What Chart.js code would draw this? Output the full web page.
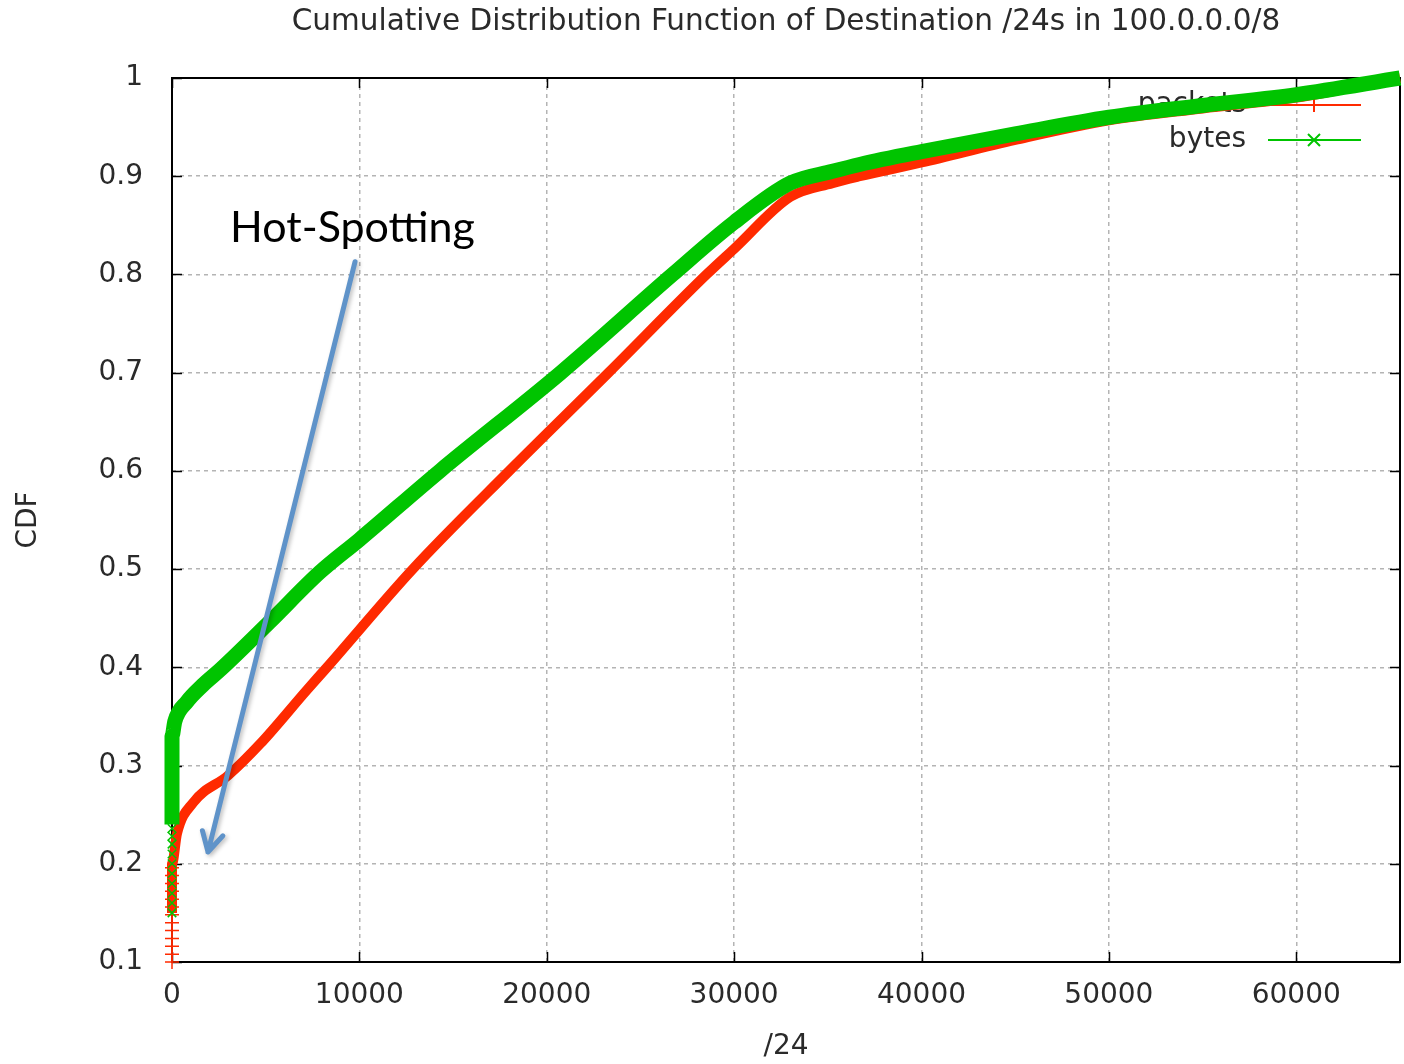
<!DOCTYPE html>
<html lang="en">
<head>
<meta charset="UTF-8">
<title>CDF of Destination /24s</title>
<script src="https://cdn.jsdelivr.net/npm/chart.js"></script>
<style>
  html, body { margin: 0; background: #fff; overflow: hidden; }
  #wrap { width: 1404px; height: 1064px; }
  canvas { display: block; }
</style>
</head>
<body>
<div id="wrap"><canvas id="cdfChart"></canvas></div>
<script>
// x = /24 index inside 100.0.0.0/8, y = cumulative fraction
const packetsX = [0, 0, 270, 1120, 3000, 4700, 7200, 8270, 12850, 18000, 23300, 28530, 30000, 33000, 35250, 36700, 40000, 45000, 50000, 55000, 60000, 65536];
const packetsY = [0.15, 0.20, 0.231, 0.262, 0.290, 0.322, 0.377, 0.40, 0.50, 0.60, 0.70, 0.80, 0.826, 0.879, 0.893, 0.900, 0.914, 0.937, 0.957, 0.969, 0.980, 1.0];

const bytesX = [0, 0, 150, 800, 1650, 2600, 5200, 7900, 10000, 14300, 20750, 26720, 30000, 33000, 35250, 36700, 40000, 45000, 50000, 55000, 60000, 65536];
const bytesY = [0.24, 0.33, 0.345, 0.365, 0.382, 0.398, 0.446, 0.497, 0.530, 0.60, 0.70, 0.80, 0.853, 0.893, 0.905, 0.912, 0.925, 0.943, 0.960, 0.972, 0.983, 1.0];

// marker clusters stacked at x = 0
const packetsMarksY = [0.100, 0.108, 0.116, 0.124, 0.132, 0.140, 0.148, 0.156, 0.164, 0.172, 0.180, 0.188, 0.196];
const bytesMarksY = [0.150, 0.160, 0.170, 0.180, 0.190, 0.200, 0.210, 0.220, 0.228, 0.236];

const xTicks = [0, 10000, 20000, 30000, 40000, 50000, 60000];
const yTicks = [0.1, 0.2, 0.3, 0.4, 0.5, 0.6, 0.7, 0.8, 0.9, 1];

const chartTitle = 'Cumulative Distribution Function of Destination /24s in 100.0.0.0/8';
const seriesNames = ['packets', 'bytes'];
const RED = '#ff2a00';
const GREEN = '#00c400';
const TEXT = '#2a2a2a';
const FONT = "'DejaVu Sans', sans-serif";

// callout: label position, arrow start and arrow tip in data units
const note = { text: 'Hot-Spotting', x: 3100, y: 0.847 };
const arrowFrom = { x: 9770, y: 0.813 };
const arrowTo = { x: 1920, y: 0.212 };

const toPoints = (xs, ys) => xs.map((x, i) => ({ x: x, y: ys[i] }));

// title, frame, inward tick marks and the key (drawn under the curves)
const framePlugin = {
  id: 'frame',
  beforeDatasetsDraw(chart) {
    const { ctx, chartArea: a, scales } = chart;
    ctx.save();
    ctx.fillStyle = TEXT;
    ctx.font = '29.5px ' + FONT;
    ctx.textAlign = 'center';
    ctx.textBaseline = 'middle';
    ctx.fillText(chartTitle, (a.left + a.right) / 2, 22);

    ctx.strokeStyle = '#000';
    ctx.lineWidth = 2;
    ctx.strokeRect(a.left, a.top, a.right - a.left, a.bottom - a.top);
    ctx.lineWidth = 1.5;
    ctx.beginPath();
    xTicks.forEach(v => {
      const px = Math.round(scales.x.getPixelForValue(v)) + 0.5;
      ctx.moveTo(px, a.bottom); ctx.lineTo(px, a.bottom - 10);
      ctx.moveTo(px, a.top); ctx.lineTo(px, a.top + 10);
    });
    yTicks.forEach(v => {
      const py = Math.round(scales.y.getPixelForValue(v)) + 0.5;
      ctx.moveTo(a.left, py); ctx.lineTo(a.left + 10, py);
      ctx.moveTo(a.right, py); ctx.lineTo(a.right - 10, py);
    });
    ctx.stroke();

    // key
    const colors = [RED, GREEN];
    ctx.font = '28px ' + FONT;
    ctx.textAlign = 'right';
    seriesNames.forEach((name, i) => {
      const y = 105 + i * 35;
      ctx.fillStyle = TEXT;
      ctx.fillText(name, 1246, y);
      ctx.strokeStyle = colors[i];
      ctx.lineWidth = 2;
      ctx.beginPath();
      ctx.moveTo(1268, y); ctx.lineTo(1361, y);
      if (i === 0) {
        ctx.moveTo(1314, y - 7); ctx.lineTo(1314, y + 7);
      } else {
        ctx.moveTo(1308, y - 6); ctx.lineTo(1320, y + 6);
        ctx.moveTo(1308, y + 6); ctx.lineTo(1320, y - 6);
      }
      ctx.stroke();
    });
    ctx.restore();
  },
  afterDatasetsDraw(chart) {
    const { ctx, scales } = chart;
    const sx = v => scales.x.getPixelForValue(v);
    const sy = v => scales.y.getPixelForValue(v);
    ctx.save();
    ctx.fillStyle = '#000';
    ctx.font = '43px Lato, sans-serif';
    ctx.textAlign = 'left';
    ctx.textBaseline = 'middle';
    ctx.fillText(note.text, sx(note.x), sy(note.y));

    const x0 = sx(arrowFrom.x), y0 = sy(arrowFrom.y);
    const x1 = sx(arrowTo.x), y1 = sy(arrowTo.y);
    const ang = Math.atan2(y1 - y0, x1 - x0);
    ctx.strokeStyle = '#5f93c9';
    ctx.lineWidth = 5;
    ctx.lineCap = 'round';
    ctx.lineJoin = 'round';
    ctx.shadowColor = 'rgba(0,0,0,0.25)';
    ctx.shadowBlur = 4;
    ctx.shadowOffsetX = 2;
    ctx.shadowOffsetY = 2;
    ctx.beginPath();
    ctx.moveTo(x0, y0);
    ctx.lineTo(x1, y1);
    ctx.moveTo(x1 - 22 * Math.cos(ang - 0.5), y1 - 22 * Math.sin(ang - 0.5));
    ctx.lineTo(x1, y1);
    ctx.lineTo(x1 - 22 * Math.cos(ang + 0.5), y1 - 22 * Math.sin(ang + 0.5));
    ctx.stroke();
    ctx.restore();
  }
};

new Chart(document.getElementById('cdfChart'), {
  type: 'line',
  data: {
    datasets: [
      {
        label: seriesNames[0],
        data: toPoints(packetsX, packetsY),
        borderColor: RED,
        borderWidth: 10,
        borderJoinStyle: 'round',
        pointRadius: 0,
        cubicInterpolationMode: 'monotone',
        clip: false,
        order: 4
      },
      {
        label: seriesNames[0] + ' marks',
        data: packetsMarksY.map(y => ({ x: 0, y: y })),
        showLine: false,
        pointStyle: 'cross',
        pointRadius: 7,
        borderColor: RED,
        borderWidth: 1.5,
        clip: false,
        order: 3
      },
      {
        label: seriesNames[1],
        data: toPoints(bytesX, bytesY),
        borderColor: GREEN,
        borderWidth: 15,
        borderJoinStyle: 'round',
        pointRadius: 0,
        cubicInterpolationMode: 'monotone',
        clip: false,
        order: 2
      },
      {
        label: seriesNames[1] + ' marks',
        data: bytesMarksY.map(y => ({ x: 0, y: y })),
        showLine: false,
        pointStyle: 'crossRot',
        pointRadius: 6,
        borderColor: GREEN,
        borderWidth: 1.5,
        clip: false,
        order: 1
      }
    ]
  },
  options: {
    responsive: true,
    maintainAspectRatio: false,
    animation: false,
    devicePixelRatio: 1,
    layout: { autoPadding: false, padding: { top: 78, right: 4, left: 0, bottom: 0 } },
    plugins: {
      legend: { display: false },
      tooltip: { enabled: false },
      title: { display: false }
    },
    scales: {
      x: {
        type: 'linear',
        min: 0,
        max: 65536,
        afterBuildTicks: axis => { axis.ticks = xTicks.map(v => ({ value: v })); },
        afterFit: axis => { axis.height = 102; axis.paddingLeft = 0; axis.paddingRight = 0; },
        grid: { color: '#b4b4b4', lineWidth: 1.5, drawTicks: false },
        border: { display: false, dash: [4, 4] },
        ticks: { color: TEXT, font: { family: FONT, size: 28 }, padding: 17, maxRotation: 0, callback: v => String(v) },
        title: { display: true, text: '/24', color: TEXT, font: { family: FONT, size: 28 }, padding: { top: 0, bottom: 0 } }
      },
      y: {
        type: 'linear',
        min: 0.1,
        max: 1,
        afterBuildTicks: axis => { axis.ticks = yTicks.map(v => ({ value: v })); },
        afterFit: axis => { axis.width = 172; },
        grid: { color: '#b4b4b4', lineWidth: 1.5, drawTicks: false },
        border: { display: false, dash: [4, 4] },
        ticks: { color: TEXT, font: { family: FONT, size: 28 }, padding: 29, callback: v => String(Math.round(v * 10) / 10) },
        title: { display: true, text: 'CDF', color: TEXT, font: { family: FONT, size: 28 }, padding: { top: 12, bottom: 12 } }
      }
    }
  },
  plugins: [framePlugin]
});
</script>
</body>
</html>
